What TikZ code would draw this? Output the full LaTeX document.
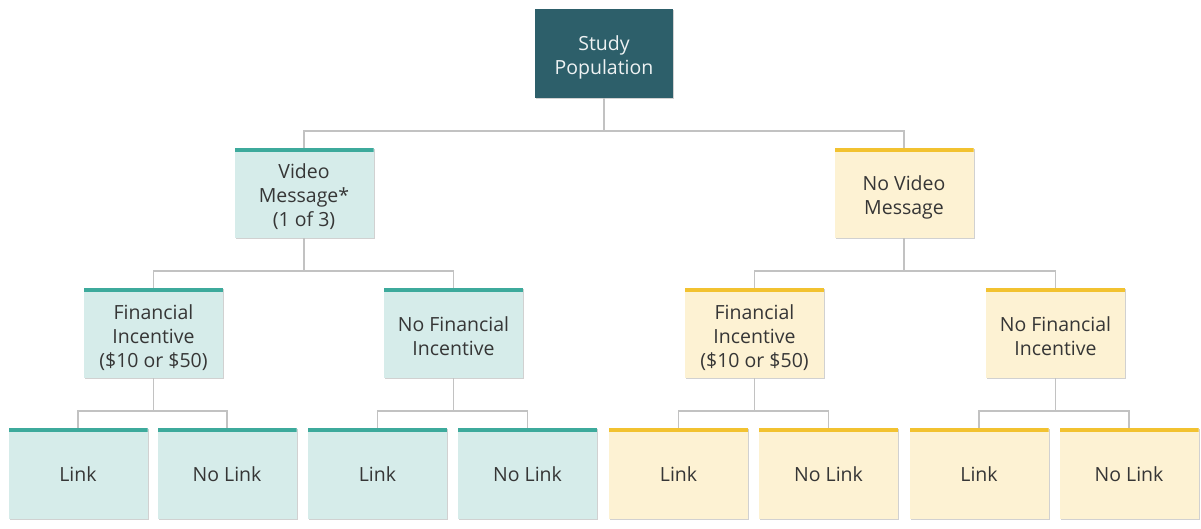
\documentclass[tikz,border=0pt]{standalone}
\usepackage{fontspec}
\setmainfont{Open Sans}
\usetikzlibrary{shadows}
\definecolor{darkteal}{HTML}{2D5F6A}
\definecolor{tealbar}{HTML}{3DAA9C}
\definecolor{tealfill}{HTML}{D6ECEA}
\definecolor{yelbar}{HTML}{F2C230}
\definecolor{yelfill}{HTML}{FDF2D3}
\definecolor{txt}{HTML}{363636}
\definecolor{conn}{HTML}{C2C2C2}
\tikzset{
  base/.style={minimum width=139pt, minimum height=90pt, inner sep=0pt,
    drop shadow={shadow xshift=1pt, shadow yshift=-1pt, fill=black!18, opacity=1}},
  tealbox/.style={base, fill=tealfill,
    path picture={\fill[tealbar] (path picture bounding box.north west) rectangle ([yshift=-4pt]path picture bounding box.north east);}},
  yelbox/.style={base, fill=yelfill,
    path picture={\fill[yelbar] (path picture bounding box.north west) rectangle ([yshift=-4pt]path picture bounding box.north east);}},
  topbox/.style={base, fill=darkteal, minimum width=138pt, minimum height=89pt},
  leafbox/.style={minimum height=91pt},
  lbl/.style={inner sep=0pt, align=center, font=\fontsize{19.5}{24}\selectfont, text=txt},
  toplbl/.style={lbl, text=white!92!darkteal},
  link/.style={draw=conn, line width=1.5pt}
}
\begin{document}
\begin{tikzpicture}[x=1pt,y=-1pt]
\useasboundingbox (0,0) rectangle (1201,529);
\node[topbox] (sp) at (604,53.5) {};
\node[tealbox] (vm) at (304,193) {};
\node[yelbox] (nvm) at (904,193) {};
\node[tealbox] (fi1) at (153.5,333) {};
\node[tealbox] (nfi1) at (453.5,333) {};
\node[yelbox] (fi2) at (754.5,333) {};
\node[yelbox] (nfi2) at (1055.5,333) {};
\node[tealbox,leafbox] (l1) at (78,473.5) {};
\node[tealbox,leafbox] (n1) at (227,473.5) {};
\node[tealbox,leafbox] (l2) at (377.5,473.5) {};
\node[tealbox,leafbox] (n2) at (527.5,473.5) {};
\node[yelbox,leafbox] (l3) at (678.5,473.5) {};
\node[yelbox,leafbox] (n3) at (828.5,473.5) {};
\node[yelbox,leafbox] (l4) at (979,473.5) {};
\node[yelbox,leafbox] (n4) at (1129,473.5) {};
\node[toplbl] (spt) at ([yshift=-3.5pt]sp.center) {Study\\Population};
\node[lbl] (vmt) at ([yshift=-4pt]vm.center) {Video\\Message*\\(1 of 3)};
\node[lbl] (nvmt) at ([yshift=-4.5pt]nvm.center) {No Video\\Message};
\node[lbl] (fi1t) at ([yshift=-4.5pt]fi1.center) {Financial\\Incentive\\(\$10 or \$50)};
\node[lbl] (nfi1t) at ([yshift=-3pt]nfi1.center) {No Financial\\Incentive};
\node[lbl] (fi2t) at ([yshift=-4.5pt]fi2.center) {Financial\\Incentive\\(\$10 or \$50)};
\node[lbl] (nfi2t) at ([yshift=-3pt]nfi2.center) {No Financial\\Incentive};
\foreach \n in {l1,l2,l3,l4}{\node[lbl] (\n t) at ([yshift=-1pt]\n.center) {Link};}
\foreach \n in {n1,n2,n3,n4}{\node[lbl] (\n t) at ([yshift=-1pt]\n.center) {No Link};}
\foreach \p/\c in {sp/vm, sp/nvm, vm/fi1, vm/nfi1, nvm/fi2, nvm/nfi2}{
  \draw[link] (\p.south) |- ([yshift=17pt]\c.north) -- (\c.north);
}
\foreach \p/\c in {fi1/l1, fi1/n1, nfi1/l2, nfi1/n2, fi2/l3, fi2/n3, nfi2/l4, nfi2/n4}{
  \draw[link] (\p.south) |- ([yshift=17pt]\c.north) -- (\c.north);
}
\end{tikzpicture}
\end{document}
